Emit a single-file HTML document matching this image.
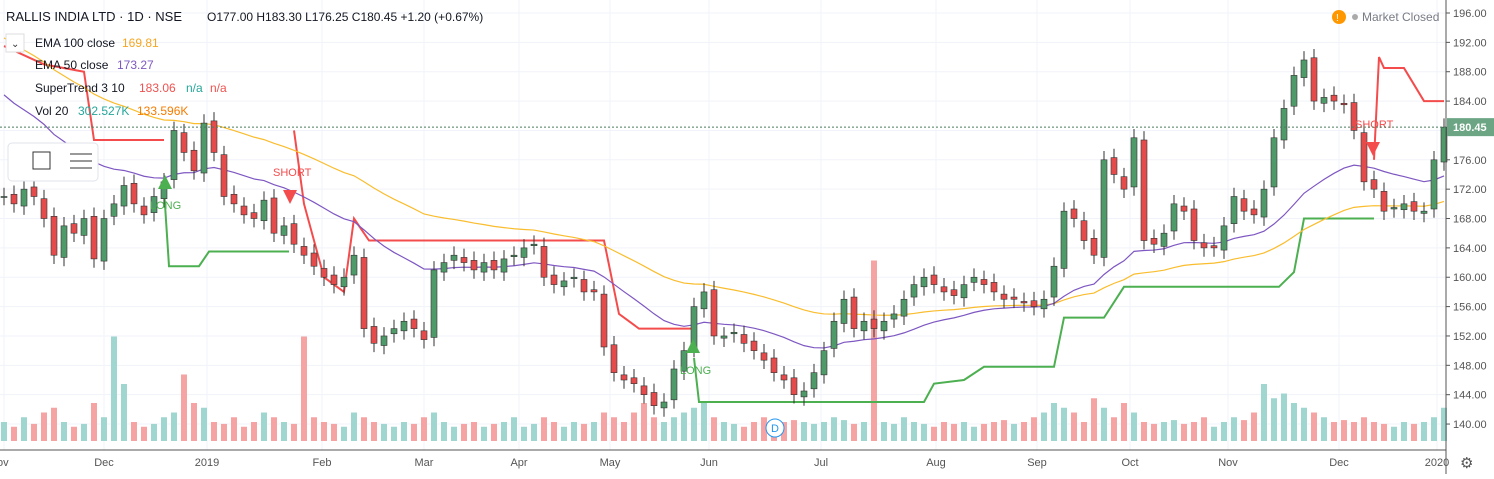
<!DOCTYPE html>
<html><head><meta charset="utf-8"><style>
body{margin:0;background:#fff;font-family:"Liberation Sans",sans-serif;}
svg text{font-family:"Liberation Sans",sans-serif;}
</style></head><body>
<svg id="c" width="1494" height="474" xmlns="http://www.w3.org/2000/svg">
<g id="grid"></g><g id="vol"></g><g id="st"></g><g id="ema"></g><g id="candles"></g><g id="ann"></g><g id="axes"></g>
<g font-size="12">
<text x="6" y="21" font-size="13" fill="#131722">RALLIS INDIA LTD · 1D · NSE</text>
<text x="207" y="21" font-size="12" fill="#131722">O177.00  H183.30  L176.25  C180.45  +1.20 (+0.67%)</text>
<rect x="6" y="34" width="18" height="18" fill="#fff" stroke="#ddd"/>
<text x="11" y="47" font-size="10" fill="#333">⌄</text>
<text x="35" y="47" fill="#131722">EMA 100 close</text><text x="122" y="47" fill="#f5a623">169.81</text>
<text x="35" y="69" fill="#131722">EMA 50 close</text><text x="117" y="69" fill="#7e57c2">173.27</text>
<text x="35" y="92" fill="#131722">SuperTrend 3 10</text><text x="139" y="92" fill="#ef5350">183.06</text><text x="186" y="92" fill="#26a69a">n/a</text><text x="210" y="92" fill="#ef5350">n/a</text>
<text x="35" y="115" fill="#131722">Vol 20</text><text x="78" y="115" fill="#26a69a">302.527K</text><text x="137" y="115" fill="#f57c00">133.596K</text>
</g>
<g>
<rect x="8" y="143" width="90" height="38" rx="4" fill="#fff" stroke="#e0e3eb"/>
<rect x="33" y="152" width="17" height="17" fill="none" stroke="#333"/>
<line x1="70" y1="154" x2="92" y2="154" stroke="#333"/><line x1="70" y1="161" x2="92" y2="161" stroke="#333"/><line x1="70" y1="168" x2="92" y2="168" stroke="#333"/>
</g>
<g>
<circle cx="1339" cy="17" r="7" fill="#ff9800"/><text x="1336" y="21" font-size="10" fill="#fff">!</text>
<circle cx="1355" cy="17" r="3" fill="#aaa"/><text x="1362" y="21" font-size="12" fill="#787b86">Market Closed</text>
</g>
</svg>
<script>
const closes=[171,170,172,171,168,163,167,166,168,162.5,168,170,172.5,170,168.5,171,173,180,177,174.5,181,177,171,170,168.5,168,170.5,166,167,164.5,163,161.5,160,159,160,163,153,151,152,153,154,153,151.5,161,162,163,162,161,162,161,162.5,163,164,164.5,160,159,159.5,160,158,158,150.5,147,146,145.5,144,142.5,143,147.5,150,156,158,152,152,152.5,151,150,148.7,147,146,144,144.5,147,150,154,157,153,154,153,154,155,157,159,160,159,158,157.5,159,160,159,158,157,157,156.5,156,157,161.5,169,168,165,163,176,174,172,179,165,164.5,166,170,169,165,164,164,167,171,169,168.5,172,179,183,187.5,189.6,184,184.5,184,183.5,180,173,172,169,169.5,170,169,169,176,180.45];
const volumes=[20,15,25,18,30,35,20,15,18,40,25,110,60,20,15,18,25,30,70,40,35,20,18,25,15,20,30,25,20,18,110,25,20,18,15,30,25,20,18,15,20,18,25,30,20,15,18,20,15,18,20,25,15,18,25,20,15,20,18,20,30,25,20,30,40,25,20,25,30,35,40,25,20,18,15,20,25,18,20,22,20,18,20,25,22,18,20,190,20,18,25,20,18,15,20,18,20,15,18,20,22,18,20,25,30,40,35,30,20,45,35,25,40,30,20,18,20,22,18,20,25,15,20,25,22,30,60,45,50,40,35,30,25,20,22,20,25,20,18,15,20,18,20,25,35];
const stRed=[[[0,191.5],[4,189],[8,188],[9,178.7],[16,178.7]],[[29,180],[30,170],[32,160],[34,158],[35,168],[36.5,165],[60,165],[61.5,155],[63.5,153],[69,153]],[[137,176],[137.5,190],[138,188.5],[140,188.5],[142,184],[144,184]]];
const stGreen=[[[16,172],[16.5,161.5],[19.5,161.5],[20.5,163.5],[28.5,163.5]],[[69,149],[69.5,143],[92,143],[93,145.5],[96,146],[98,147.8],[105,147.8],[106,154.5],[110,154.5],[112,158.7],[127.5,158.7],[129,160.7],[130,168],[137,168]]];
const priceTicks=[196,192,188,184,180,176,172,168,164,160,156,152,148,144,140];
const timeLabels=["ov","Dec","2019","Feb","Mar","Apr","May","Jun","Jul","Aug","Sep","Oct","Nov","Dec","2020"];
const timePos=[0,10,20.3,31.8,42,51.5,60.6,70.5,81.7,93.2,103.3,112.6,122.4,133.5,143.3];

const NS="http://www.w3.org/2000/svg";
const W=1446;
const y=p=>13+(196-p)*7.34;
const x=i=>4+i*10;
function mk(parent,tag,attrs){const e=document.createElementNS(NS,tag);for(const k in attrs)e.setAttribute(k,attrs[k]);document.getElementById(parent).appendChild(e);return e;}
priceTicks.forEach(p=>{const l=mk('grid','line',{x1:0,x2:W,y1:y(p),y2:y(p),stroke:'#f0f3fa'});

});
timePos.forEach(t=>{const l=mk('grid','line',{x1:x(t),x2:x(t),y1:0,y2:450,stroke:'#f0f3fa'});

});
closes.forEach((c,i)=>{const o=i?closes[i-1]:c;const h=volumes[i]*0.95;
const r=mk('vol','rect',{x:x(i)-3,y:441-h,width:6,height:h,fill:c>=o?'#9fd6d0':'#f5a3a3'});

});
function pl(pts,color,name){const l=mk('st','polyline',{points:pts.map(p=>x(p[0])+','+y(p[1])).join(' '),fill:'none',stroke:color,'stroke-width':2});

}
stRed.forEach(s=>pl(s,'#f44c4c','supertrend-down'));
stGreen.forEach(s=>pl(s,'#4caf50','supertrend-up'));
function ema(period,seed){let e=seed;const a=2/(period+1);return closes.map(c=>(e=e+a*(c-e)));}
const e100=ema(50,193.5),e50=ema(25,186);
[[e100,'#f9bd2e','ema-100'],[e50,'#7e57c2','ema-50']].forEach(([arr,col,n])=>{const l=mk('ema','polyline',{points:arr.map((v,i)=>x(i)+','+y(v)).join(' '),fill:'none',stroke:col,'stroke-width':1.2});

});
closes.forEach((c,i)=>{const o=i?closes[i-1]+(i%2?0.3:-0.3):c;const up=c>=o;
const hi=Math.max(o,c)+1.2,lo=Math.min(o,c)-1.2;
const w=mk('candles','line',{x1:x(i),x2:x(i),y1:y(hi),y2:y(lo),stroke:'#333','stroke-width':1});


const b=mk('candles','rect',{x:x(i)-3,y:y(Math.max(o,c)),width:6,height:Math.max(1,Math.abs(y(o)-y(c))),fill:up?'#4e9a68':'#e54b4b',stroke:'#333','stroke-width':0.6});

});
const lp=mk('axes','line',{x1:0,x2:W,y1:y(180.45),y2:y(180.45),stroke:'#4a7d5f','stroke-dasharray':'2,2'});


const ax=mk('axes','line',{x1:W,x2:W,y1:0,y2:474,stroke:'#555'});


const bx=mk('axes','line',{x1:0,x2:W,y1:450,y2:450,stroke:'#555'});


priceTicks.forEach(p=>{const t=mk('axes','text',{x:1453,y:y(p)+4,'font-size':11,fill:'#555'});t.textContent=p.toFixed(2);


const k=mk('axes','line',{x1:W,x2:W+4,y1:y(p),y2:y(p),stroke:'#555'});

});
const pb=mk('axes','rect',{x:W+1,y:y(180.45)-9,width:47,height:18,fill:'#6ba583'});


const pt=mk('axes','text',{x:1453,y:y(180.45)+4,'font-size':11,fill:'#fff','font-weight':'bold'});pt.textContent='180.45';


timeLabels.forEach((s,i)=>{const t=mk('axes','text',{x:i?x(timePos[i]):-3,y:466,'font-size':11,fill:'#555','text-anchor':i?'middle':'start'});t.textContent=s;

});
const gear=mk('axes','text',{x:1460,y:468,'font-size':15,fill:'#555'});gear.textContent='⚙';


function lab(tx,ty,s,col){const t=mk('ann','text',{x:tx,y:ty,'font-size':11,fill:col});t.textContent=s;

}
function tri(cx,cy,up,col){const d=up?`M${cx-7},${cy+7} L${cx+7},${cy+7} L${cx},${cy-7}Z`:`M${cx-7},${cy-7} L${cx+7},${cy-7} L${cx},${cy+7}Z`;
const p=mk('ann','path',{d:d,fill:col});

}
tri(165,182,true,'#4caf50');lab(150,209,'LONG','#4caf50');
tri(290,197,false,'#f44c4c');lab(273,176,'SHORT','#f44c4c');
tri(693,346,true,'#4caf50');lab(680,374,'LONG','#4caf50');
tri(1373,149,false,'#f44c4c');lab(1355,128,'SHORT','#f44c4c');
const dc=mk('ann','circle',{cx:775,cy:428,r:9,fill:'#fff',stroke:'#2196f3'});


const dt=mk('ann','text',{x:771,y:432,'font-size':11,fill:'#2196f3'});dt.textContent='D';


</script>
</body></html>
